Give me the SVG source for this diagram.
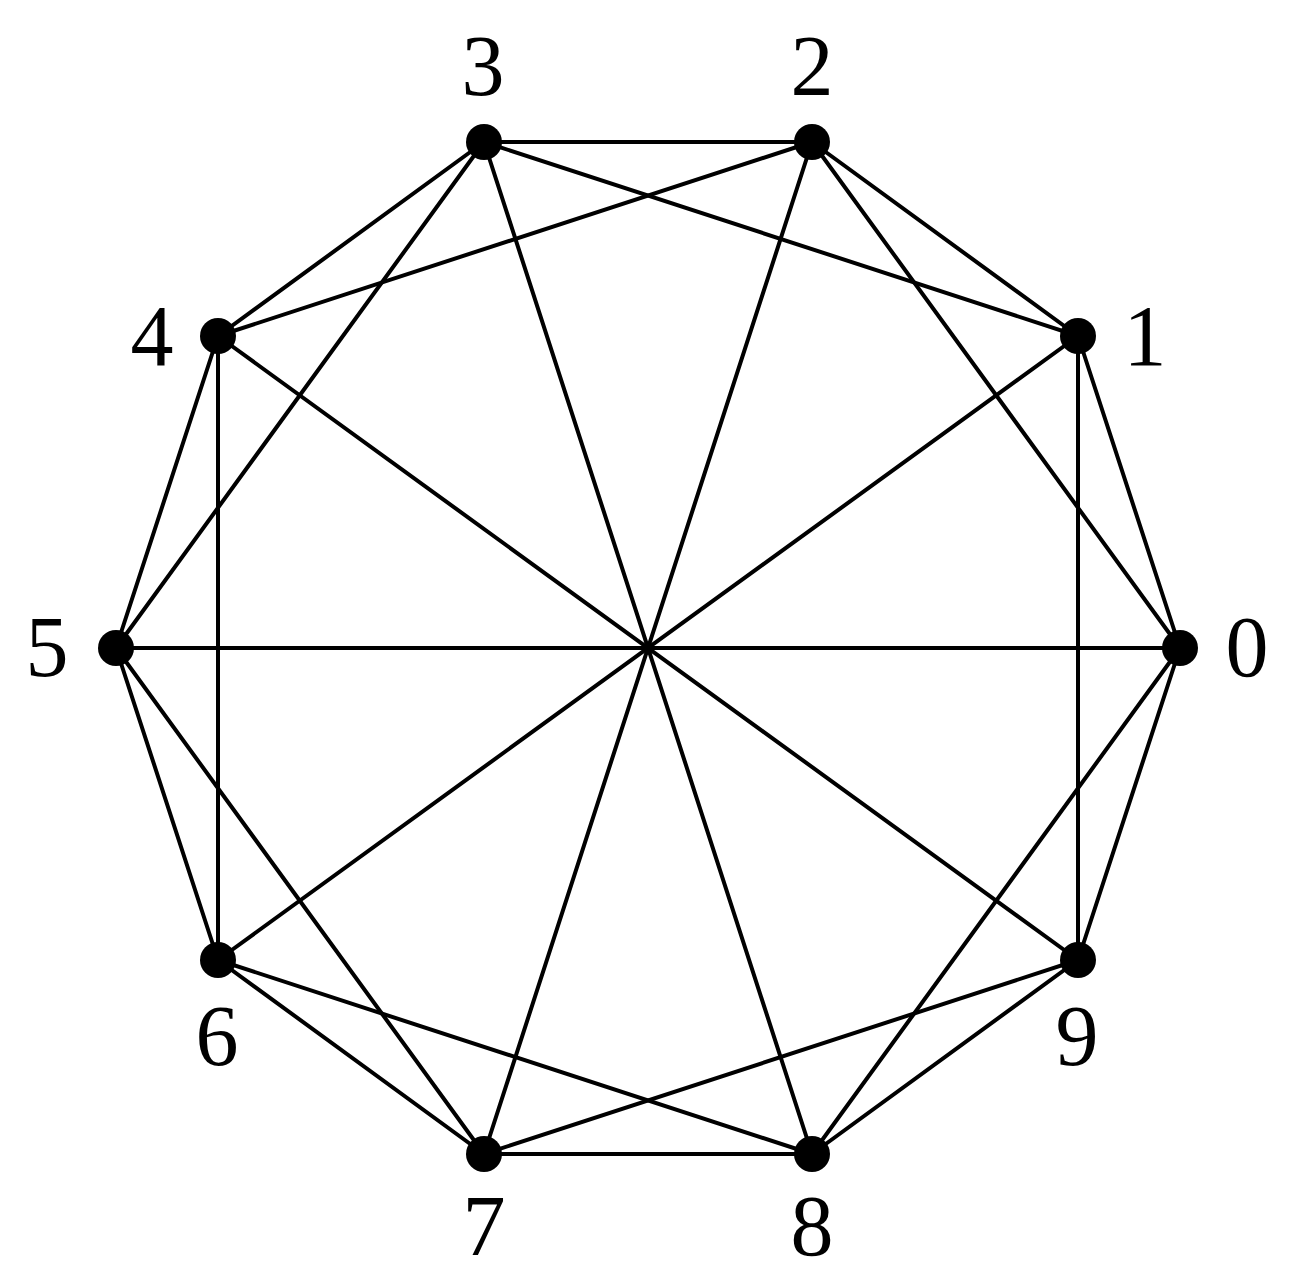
<svg xmlns="http://www.w3.org/2000/svg" width="1301" height="1283" viewBox="0 0 1301 1283">
<style>
.e{stroke:#000;stroke-width:4;fill:none;stroke-linecap:round}
.n{fill:#000}
.t{font-family:"Liberation Serif","Times New Roman",serif;font-size:86px;text-anchor:middle;fill:#000}
</style>
<rect width="1301" height="1283" fill="#fff"/>
<g id="edges">
<line class="e" x1="1180" y1="648" x2="1078" y2="336"/>
<line class="e" x1="1078" y1="336" x2="812" y2="142"/>
<line class="e" x1="812" y1="142" x2="484" y2="142"/>
<line class="e" x1="484" y1="142" x2="218" y2="336"/>
<line class="e" x1="218" y1="336" x2="116" y2="648"/>
<line class="e" x1="116" y1="648" x2="218" y2="960"/>
<line class="e" x1="218" y1="960" x2="484" y2="1154"/>
<line class="e" x1="484" y1="1154" x2="812" y2="1154"/>
<line class="e" x1="812" y1="1154" x2="1078" y2="960"/>
<line class="e" x1="1078" y1="960" x2="1180" y2="648"/>
<line class="e" x1="1180" y1="648" x2="812" y2="142"/>
<line class="e" x1="1078" y1="336" x2="484" y2="142"/>
<line class="e" x1="812" y1="142" x2="218" y2="336"/>
<line class="e" x1="484" y1="142" x2="116" y2="648"/>
<line class="e" x1="218" y1="336" x2="218" y2="960"/>
<line class="e" x1="116" y1="648" x2="484" y2="1154"/>
<line class="e" x1="218" y1="960" x2="812" y2="1154"/>
<line class="e" x1="484" y1="1154" x2="1078" y2="960"/>
<line class="e" x1="812" y1="1154" x2="1180" y2="648"/>
<line class="e" x1="1078" y1="960" x2="1078" y2="336"/>
<line class="e" x1="1180" y1="648" x2="116" y2="648"/>
<line class="e" x1="1078" y1="336" x2="218" y2="960"/>
<line class="e" x1="812" y1="142" x2="484" y2="1154"/>
<line class="e" x1="484" y1="142" x2="812" y2="1154"/>
<line class="e" x1="218" y1="336" x2="1078" y2="960"/>
</g>
<g id="node0"><circle class="n" cx="1180" cy="648" r="18"/><text class="t" x="1247" y="676">0</text></g>
<g id="node1"><circle class="n" cx="1078" cy="336" r="18"/><text class="t" x="1145" y="365">1</text></g>
<g id="node2"><circle class="n" cx="812" cy="142" r="18"/><text class="t" x="812" y="95">2</text></g>
<g id="node3"><circle class="n" cx="484" cy="142" r="18"/><text class="t" x="483" y="95">3</text></g>
<g id="node4"><circle class="n" cx="218" cy="336" r="18"/><text class="t" x="152" y="365">4</text></g>
<g id="node5"><circle class="n" cx="116" cy="648" r="18"/><text class="t" x="47" y="676">5</text></g>
<g id="node6"><circle class="n" cx="218" cy="960" r="18"/><text class="t" x="217" y="1065">6</text></g>
<g id="node7"><circle class="n" cx="484" cy="1154" r="18"/><text class="t" x="484" y="1255">7</text></g>
<g id="node8"><circle class="n" cx="812" cy="1154" r="18"/><text class="t" x="812" y="1255">8</text></g>
<g id="node9"><circle class="n" cx="1078" cy="960" r="18"/><text class="t" x="1077" y="1065">9</text></g>
</svg>
